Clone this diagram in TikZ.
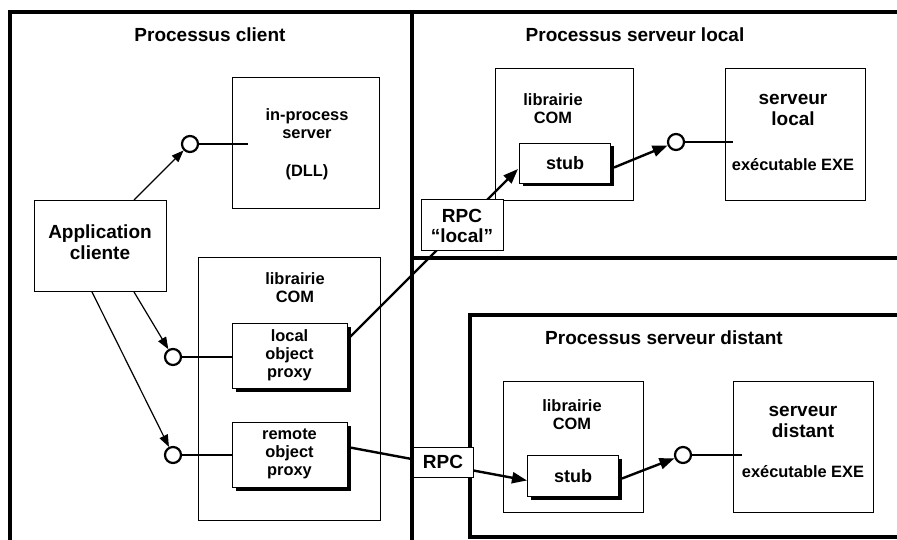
\documentclass[tikz,border=0pt]{standalone}
\usepackage{fontspec}
\setmainfont{Liberation Sans}
\usetikzlibrary{arrows.meta,shadows,calc}
\begin{document}
\begin{tikzpicture}[x=1pt,y=-1pt,
  frame/.style={line width=3.3pt},
  box/.style={draw, line width=1pt, fill=white, inner sep=0pt, anchor=north west},
  shbox/.style={box, drop shadow={shadow xshift=3pt, shadow yshift=-3pt, opacity=1, fill=black}},
  iface/.style={circle, draw, line width=2.2pt, fill=white, minimum size=16pt, inner sep=0pt},
  ifline/.style={line width=2.8pt},
  thinarr/.style={line width=1.2pt, -{Triangle[length=12pt,width=9pt]}},
  thickarr/.style={line width=2.4pt, -{Triangle[length=15pt,width=11pt]}},
  rpcbox/.style={draw, line width=1pt, fill=white, inner sep=0pt, align=center,
    font=\fontsize{19}{20}\selectfont\bfseries},
  ttl/.style={font=\fontsize{19}{21}\selectfont\bfseries},
  big/.style={font=\fontsize{19}{21}\selectfont\bfseries, align=center},
  mid/.style={font=\fontsize{18}{20}\selectfont\bfseries, align=center},
  small/.style={font=\fontsize{16.4}{18}\selectfont\bfseries, align=center}]

\useasboundingbox (0,0) rectangle (897,540);
\fill[white] (0,0) rectangle (897,540);
\clip (0,0) rectangle (897,540);

% process frames
\draw[frame] (10,560) -- (10,12) -- (920,12);
\draw[frame] (412,12) -- (412,560);
\draw[frame] (412,258) -- (920,258);
\draw[frame] (920,315) -- (470,315) -- (470,537) -- (920,537);

% titles
\node[ttl] (t1) at (210,35) {Processus client};
\node[ttl] (t2) at (635,35) {Processus serveur local};
\node[ttl] (t3) at (664,338) {Processus serveur distant};

% client process
\node[box, minimum width=147, minimum height=131] (inproc) at (232,77) {};
\node[box, minimum width=132, minimum height=91] (app) at (34,200) {};
\node[box, minimum width=182, minimum height=263] (lib1) at (198,257) {};
\node[shbox, minimum width=115, minimum height=65] (lproxy) at (232,323) {};
\node[shbox, minimum width=115, minimum height=65] (rproxy) at (232,422) {};

\node[small] (inproctxt) at (307,124) {in-process\\server};
\node[small] (dll) at (307,172) {(DLL)};
\node[big] (apptxt) at (100,242) {Application\\cliente};
\node[small] (lib1txt) at (295,288) {librairie\\COM};
\node[small] (lproxytxt) at (289.5,355) {local\\object\\proxy};
\node[small] (rproxytxt) at (289.5,454) {remote\\object\\proxy};

% local server process
\node[box, minimum width=138, minimum height=132] (lib2) at (495,68) {};
\node[shbox, minimum width=91, minimum height=40] (stub1) at (519,143) {};
\node[box, minimum width=140, minimum height=132] (srv1) at (725,68) {};
\node[small] (lib2txt) at (553,109) {librairie\\COM};
\node[mid] (stub1txt) at (565,163) {stub};
\node[big] (srv1txt) at (793,110) {serveur\\local};
\node[small] (exe1) at (793,165) {exécutable EXE};

% remote server process
\node[box, minimum width=140, minimum height=131] (lib3) at (503,381) {};
\node[shbox, minimum width=91, minimum height=41] (stub2) at (527,455) {};
\node[box, minimum width=140, minimum height=131] (srv2) at (733,381) {};
\node[small] (lib3txt) at (572,415) {librairie\\COM};
\node[mid] (stub2txt) at (573,476) {stub};
\node[big] (srv2txt) at (803,422) {serveur\\distant};
\node[small] (exe2) at (803,472) {exécutable EXE};

% interfaces
\node[iface] (c1) at (190,144) {};
\node[iface] (c2) at (173,357) {};
\node[iface] (c3) at (173,455) {};
\node[iface] (c4) at (676,142) {};
\node[iface] (c5) at (683,455) {};

\draw[ifline] (c1) -- ($(inproc.west |- c1)+(16,0)$);
\draw[ifline] (c2) -- (c2 -| lproxy.west);
\draw[ifline] (c3) -- (c3 -| rproxy.west);
\draw[ifline] (c4) -- ($(srv1.west |- c4)+(8,0)$);
\draw[ifline] (c5) -- ($(srv2.west |- c5)+(9,0)$);

% calls from the client application
\draw[thinarr] ($(app.north east)+(-33,0)$) -- (c1);
\draw[thinarr] ($(app.south east)+(-33,0)$) -- (c2);
\draw[thinarr] ($(app.south west)+(58,0)$) -- (c3);

% RPC channels
\draw[thickarr] ($(lproxy.north east)+(2,14)$) -- ($(stub1.south west)+(-1,-15)$);
\draw[thickarr] ($(stub1.east)+(3,4)$) -- (c4);
\draw[thickarr] ($(rproxy.east)+(2,-7.5)$) -- ($(stub2.west)+(0,4.5)$);
\draw[thickarr] ($(stub2.east)+(3,2.5)$) -- (c5);

\node[rpcbox, minimum width=82, minimum height=51] (rpc1) at (462,225.5) {RPC\\“local”};
\node[rpcbox, minimum width=60, minimum height=30] (rpc2) at (443,462) {RPC};
\end{tikzpicture}
\end{document}
